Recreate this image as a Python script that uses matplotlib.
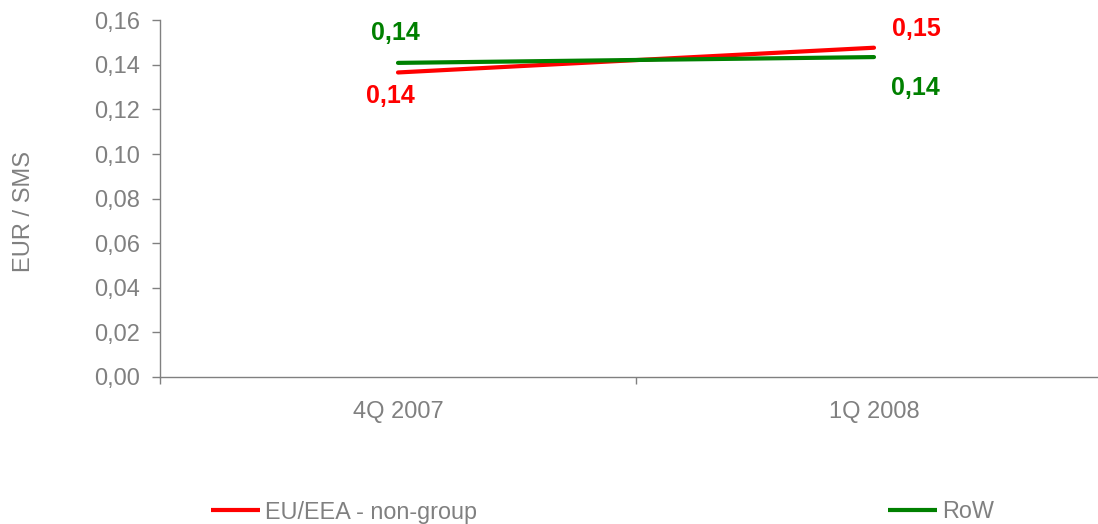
import matplotlib
matplotlib.use("Agg")
import matplotlib.pyplot as plt
from matplotlib.lines import Line2D

categories = ["4Q 2007", "1Q 2008"]
eu_values = [0.1366, 0.1477]
row_values = [0.1409, 0.1435]
eu_labels = ["0,14", "0,15"]
row_labels = ["0,14", "0,14"]
yticks = [0.00, 0.02, 0.04, 0.06, 0.08, 0.10, 0.12, 0.14, 0.16]

GRAY = "#808080"
RED = "#FF0000"
GREEN = "#008000"
plt.rcParams['font.family'] = ['Liberation Sans', 'DejaVu Sans']

fig = plt.figure(figsize=(10.98, 5.24), dpi=100)
ax = fig.add_axes([160/1098, 1-377/524, (1112-160)/1098, (377-20.3)/524])

x = list(range(len(categories)))
ax.plot(x, eu_values, color=RED, lw=3, solid_capstyle='round', zorder=3)
ax.plot(x, row_values, color=GREEN, lw=3, solid_capstyle='round', zorder=3)

ax.set_xlim(-0.5, 1.5)
ax.set_ylim(0, 0.16)
ax.set_yticks(yticks)
ax.set_yticklabels([f"{v:.2f}".replace(".", ",") for v in yticks])
ax.set_xticks(x)
ax.set_xticklabels(categories)
ax.set_xticks([-0.5, 0.5, 1.5], minor=True)

for s in ['top', 'right']:
    ax.spines[s].set_visible(False)
for s in ['left', 'bottom']:
    ax.spines[s].set_color(GRAY)
    ax.spines[s].set_linewidth(1)

ax.tick_params(axis='y', colors=GRAY, labelsize=17, length=5.8, width=1, pad=8.6)
ax.tick_params(axis='x', which='major', colors=GRAY, labelsize=17, length=0, pad=17)
ax.tick_params(axis='x', which='minor', colors=GRAY, length=5, width=1)
for lbl in ax.get_xticklabels() + ax.get_yticklabels():
    lbl.set_color(GRAY)

ax.set_ylabel("EUR / SMS", color=GRAY, fontsize=17)
ax.yaxis.set_label_coords(35/1098, 1-211.5/524, transform=fig.transFigure)

# data labels (offsets in pixels)
eu_offsets = [(-8, -24), (42, 19)]
row_offsets = [(-3, 30), (41, -31)]
for i in x:
    ax.annotate(eu_labels[i], (x[i], eu_values[i]), xytext=eu_offsets[i],
                textcoords='offset pixels', ha='center', va='center',
                color=RED, fontsize=18, fontweight='bold')
    ax.annotate(row_labels[i], (x[i], row_values[i]), xytext=row_offsets[i],
                textcoords='offset pixels', ha='center', va='center',
                color=GREEN, fontsize=18, fontweight='bold')

h1 = Line2D([], [], color=RED, lw=3, solid_capstyle='butt')
h2 = Line2D([], [], color=GREEN, lw=3, solid_capstyle='butt')
common = dict(frameon=False, loc='center left', borderpad=0, borderaxespad=0,
              handlelength=2.1, handletextpad=0.21, labelcolor=GRAY,
              prop={'size': 16.8})
fig.legend([h1], ["EU/EEA - non-group"], bbox_to_anchor=(211/1098, 1-512/524), **common)
fig.legend([h2], ["RoW"], bbox_to_anchor=(888/1098, 1-512/524), **common)

fig.savefig("out.png", dpi=100)
